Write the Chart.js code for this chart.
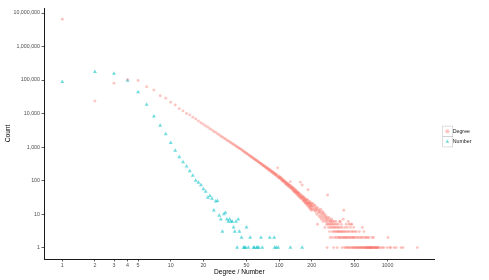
<!DOCTYPE html>
<html>
<head>
<meta charset="utf-8">
<script src="https://cdn.jsdelivr.net/npm/chart.js@4/dist/chart.umd.min.js"></script>
<style>
  html, body { margin: 0; padding: 0; background: #ffffff; overflow: hidden; }
  #c { display: block; }
</style>
</head>
<body>
<canvas id="c" width="489" height="280"></canvas>
<script>
// ---------------- data ----------------
const seriesNames = ['Degree', 'Number'];
const xTitle = 'Degree / Number';
const yTitle = 'Count';

const xTickValues = [1, 2, 3, 4, 5, 10, 20, 50, 100, 200, 500, 1000];
const xTickLabels = ['1', '2', '3', '4', '5', '10', '20', '50', '100', '200', '500', '1000'];
const yTickValues = [1, 10, 100, 1000, 10000, 100000, 1000000, 10000000];
const yTickLabels = ['1', '10', '100', '1,000', '10,000', '100,000', '1,000,000', '10,000,000'];

// Degree series: degree value and how many nodes have it
const degreeX = [
  1, 2, 3, 4, 5, 6, 7, 8, 9, 10, 11, 12, 13, 14, 15, 16, 17, 18, 19, 20,
  21, 22, 23, 24, 25, 26, 27, 28, 29, 30, 31, 32, 33, 34, 35, 36, 37, 38, 39, 40,
  41, 42, 43, 44, 45, 46, 47, 48, 49, 50, 51, 52, 53, 54, 55, 56, 57, 58, 59, 60,
  61, 62, 63, 64, 65, 66, 67, 68, 69, 70, 71, 72, 73, 74, 75, 76, 77, 78, 79, 80,
  81, 82, 83, 84, 85, 86, 87, 88, 89, 90, 91, 92, 93, 94, 95, 96, 97, 98, 99, 100,
  101, 102, 103, 104, 105, 106, 107, 108, 109, 110, 111, 112, 113, 114, 115, 116, 117, 118, 119, 120,
  121, 122, 123, 124, 125, 126, 127, 128, 129, 130, 131, 132, 133, 134, 135, 136, 137, 138, 139, 140,
  141, 142, 143, 144, 145, 146, 147, 148, 149, 150, 151, 152, 153, 154, 155, 156, 157, 158, 159, 160,
  161, 162, 163, 164, 165, 166, 167, 168, 169, 170, 171, 172, 173, 174, 175, 176, 177, 178, 179, 180,
  181, 182, 183, 184, 185, 186, 187, 188, 189, 190, 191, 192, 193, 194, 195, 196, 197, 198, 199, 200,
  201, 203, 205, 207, 209, 211, 213, 215, 217, 219, 221, 222, 224, 226, 228, 230, 232, 234, 236, 238,
  240, 242, 244, 246, 248, 250, 252, 254, 256, 258, 260, 262, 264, 266, 268, 270, 272, 274, 276, 277,
  278, 280, 281, 283, 285, 287, 289, 291, 292, 294, 296, 297, 299, 300,
  302, 304, 306, 308, 309, 311, 313, 315, 317, 318, 320, 322, 324, 326, 328, 330, 332, 334, 336, 338,
  340, 343, 345, 347, 349, 351, 353, 355, 357, 360, 362, 364, 366, 368, 370, 372, 375, 377, 380, 382,
  385, 387, 390, 392, 395, 397, 400, 402, 405, 407, 410, 412, 415, 418, 420, 423, 425, 428, 430, 433,
  435, 438, 440, 443, 446, 449, 452, 455, 458, 461, 464, 467, 470, 473, 476, 479, 482, 485, 488, 491,
  494, 497, 500,
  505, 510, 515, 520, 525, 530, 535, 540, 545, 550, 555, 560, 565, 570, 575, 580, 585, 590, 595, 600,
  605, 610, 615, 620, 625, 630, 635, 640, 645, 650, 655, 660, 665, 670, 673, 680, 685, 690, 695, 700,
  705, 710, 718, 720, 728, 735, 743, 750, 758, 765, 772, 780, 790, 800, 810, 820, 830,
  864, 898, 925, 990, 1010, 1050, 1070, 1150, 1200, 1330, 1390, 1880
];
const degreeCount = [
  6500000, 23500, 80700, 103000, 96600, 62700, 50000, 33900, 28800, 21900, 18000, 14000, 12000, 10000, 9100, 7800, 6900, 6000, 5300, 4800,
  4250, 3950, 3500, 3260, 2920, 2750, 2480, 2330, 2110, 2010, 1840, 1760, 1600, 1530, 1410, 1360, 1250, 1210, 1120, 1080,
  1000, 975, 905, 880, 840, 775, 760, 700, 690, 640, 628, 585, 575, 535, 530, 492, 488, 452, 450, 420,
  418, 390, 388, 362, 360, 338, 330, 325, 300, 305, 281, 272, 276, 252, 258, 236, 245, 224, 231, 206,
  218, 199, 206, 185, 194, 176, 185, 165, 174, 156, 164, 148, 157, 141, 150, 133, 240, 126, 137, 120,
  131, 115, 117, 125, 104, 112, 99, 108, 96, 103, 89, 97, 93, 80, 90, 86, 76, 84, 72, 81,
  78, 66, 75, 71, 63, 72, 93, 61, 68, 57, 62, 64, 52, 59, 56, 48, 58, 50, 46, 54,
  44, 51, 47, 42, 49, 39, 45, 43, 36, 44, 38, 42, 33, 40, 36, 31, 90, 35, 29, 38,
  32, 30, 74, 34, 27, 31, 25, 33, 28, 24, 30, 26, 22, 29, 25, 21, 27, 23, 20, 26,
  22, 18, 27, 21, 53, 19, 23, 16, 22, 20, 17, 24, 15, 20, 18, 14, 21, 17, 13, 19,
  16, 21, 14, 17, 19, 13, 15, 18, 12, 14, 16, 10, 13, 5, 15, 11, 9, 13, 12, 8,
  11, 14, 9, 7, 10, 12, 8, 6, 11, 9, 7, 10, 4, 8, 6, 9, 7, 5, 8, 1,
  6, 37, 7, 5, 4, 8, 6, 5, 3, 7, 2, 4, 6, 5,
  6, 4, 7, 5, 2, 3, 6, 4, 5, 1, 3, 6, 4, 2, 5, 3, 4, 6, 2, 3,
  5, 1, 4, 3, 2, 5, 3, 4, 2, 3, 6, 2, 6, 4, 3, 2, 5, 3, 1, 4,
  2, 3, 7, 2, 13, 3, 1, 2, 4, 3, 2, 1, 5, 2, 3, 1, 4, 2, 1, 3,
  6, 2, 5, 1, 3, 2, 1, 4, 5, 2, 1, 3, 5, 2, 1, 3, 2, 1, 4, 2,
  1, 3, 1,
  2, 1, 3, 1, 2, 1, 1, 2, 1, 3, 1, 2, 1, 1, 2, 1, 4, 1, 2, 1,
  3, 1, 1, 2, 1, 1, 2, 1, 1, 1, 2, 1, 1, 1, 2, 1, 1, 1, 1, 1,
  1, 1, 2, 1, 1, 1, 2, 1, 1, 1, 1, 1, 1, 1, 1, 1, 1,
  1, 1, 1, 1, 2, 1, 1, 1, 1, 1, 1, 1
];

// Number series
const numberX = [
  1, 2, 3, 4, 5, 6, 7, 8, 9, 10, 11, 12, 13, 14, 15, 16, 17, 18, 19, 20,
  21, 22, 23, 24, 25, 26, 27, 28, 29, 30, 31, 32, 33, 34, 35, 36, 37, 38, 39, 40,
  41, 42, 43, 45, 47, 48, 49, 50, 52, 54, 58, 59, 62, 63, 65, 68, 70, 82, 90, 91,
  94, 98, 127, 163
];
const numberCount = [
  88300, 175000, 156000, 96600, 43600, 18600, 8300, 4370, 2430, 1335, 787, 500, 355, 264, 191, 141, 100, 87, 73, 56,
  47, 31, 35, 29, 13, 24, 25, 9, 7, 3, 10, 11, 7, 6, 7, 6, 6, 4, 3, 6,
  1, 7, 3, 2, 1, 1, 1, 4, 1, 2, 1, 1, 1, 1, 1, 2, 1, 2, 2, 1,
  1, 1, 1, 1
];

// ---------------- chart ----------------
const FONT = "'Liberation Sans', Arial, Helvetica, sans-serif";
const tickFont = 5.3;
const titleFont = 6.6;
const legendFont = 5.3;
const legendPad = 5.1;
const legendBoxW = 6;

// axis extents (ggplot-style 5% expansion on log scale)
const xMin = 0.678, xMax = 2723;
const yMin = 0.457, yMax = 14100000;

// measure legend width so the plot panel ends where it should
const mctx = document.createElement('canvas').getContext('2d');
mctx.font = legendFont + 'px ' + FONT;
const maxLegendText = Math.max(...seriesNames.map(t => mctx.measureText(t).width));
const legendWidth = legendPad + legendBoxW + legendFont / 2 + maxLegendText + 10;
const panelRight = 434;
const padRight = Math.max(0, 489 - panelRight - legendWidth);

const degreePoints = degreeX.map((x, i) => ({ x: x, y: degreeCount[i] }));
const numberPoints = numberX.map((x, i) => ({ x: x, y: numberCount[i] }));

const legendAdjust = {
  id: 'legendAdjust',
  afterLayout(chart) {
    const lg = chart.legend;
    if (!lg) return;
    const dx = chart.chartArea.right + 10 - legendPad - lg.left;
    const dy = 3;
    lg.left += dx; lg.right += dx;
    lg.top += dy; lg.bottom += dy;
  },
  afterDraw(chart) {
    const lg = chart.legend;
    if (!lg || !lg.legendHitBoxes) return;
    const ctx = chart.ctx;
    ctx.save();
    ctx.strokeStyle = '#C8C8C8';
    ctx.lineWidth = 0.6;
    lg.legendHitBoxes.forEach(hb => {
      const cx = hb.left + legendBoxW / 2;
      const cy = hb.top + legendFont / 2;
      ctx.strokeRect(cx - 5, cy - 5.2, 10, 10.4);
    });
    ctx.restore();
  }
};

new Chart(document.getElementById('c').getContext('2d'), {
  type: 'scatter',
  data: {
    datasets: [
      {
        label: seriesNames[0],
        data: degreePoints,
        pointStyle: 'circle',
        pointRadius: 1.45,
        pointHoverRadius: 1.45,
        backgroundColor: 'rgba(248,118,109,0.42)',
        borderColor: 'rgba(0,0,0,0)',
        borderWidth: 0
      },
      {
        label: seriesNames[1],
        data: numberPoints,
        pointStyle: 'triangle',
        pointRadius: 2.3,
        pointHoverRadius: 2.3,
        backgroundColor: 'rgba(0,191,196,0.55)',
        borderColor: 'rgba(0,0,0,0)',
        borderWidth: 0
      }
    ]
  },
  options: {
    responsive: false,
    animation: false,
    devicePixelRatio: 1,
    events: [],
    layout: { padding: { top: 8, right: padRight, bottom: 0, left: 0 } },
    plugins: {
      tooltip: { enabled: false },
      legend: {
        display: true,
        position: 'right',
        align: 'center',
        fullSize: false,
        labels: {
          usePointStyle: true,
          boxWidth: legendBoxW,
          boxHeight: 3,
          padding: legendPad,
          color: '#1A1A1A',
          font: { family: FONT, size: legendFont }
        }
      }
    },
    scales: {
      x: {
        type: 'logarithmic',
        position: 'bottom',
        min: xMin,
        max: xMax,
        afterBuildTicks: s => { s.ticks = xTickValues.map(v => ({ value: v })); },
        afterFit: s => { s.height = 21; },
        ticks: {
          autoSkip: false, maxRotation: 0, minRotation: 0,
          padding: 0.5,
          color: '#4D4D4D',
          font: { family: FONT, size: tickFont },
          callback: (v, i) => xTickLabels[i]
        },
        grid: { display: true, drawOnChartArea: false, drawTicks: true, tickLength: 2.5, tickColor: '#333333', tickWidth: 0.8 },
        border: { display: true, color: '#1A1A1A', width: 1 },
        title: { display: true, text: xTitle, color: '#000000', font: { family: FONT, size: titleFont }, padding: { top: 0, bottom: 4.3 } }
      },
      y: {
        type: 'logarithmic',
        position: 'left',
        min: yMin,
        max: yMax,
        afterBuildTicks: s => { s.ticks = yTickValues.map(v => ({ value: v })); },
        afterFit: s => { s.width = 44; },
        ticks: {
          autoSkip: false,
          padding: 1.5,
          color: '#4D4D4D',
          font: { family: FONT, size: tickFont },
          callback: (v, i) => yTickLabels[i]
        },
        grid: { display: true, drawOnChartArea: false, drawTicks: true, tickLength: 2.5, tickColor: '#333333', tickWidth: 0.8 },
        border: { display: true, color: '#1A1A1A', width: 1 },
        title: { display: true, text: yTitle, color: '#000000', font: { family: FONT, size: titleFont }, padding: { top: 4, bottom: 0 } }
      }
    }
  },
  plugins: [legendAdjust]
});
</script>
</body>
</html>
